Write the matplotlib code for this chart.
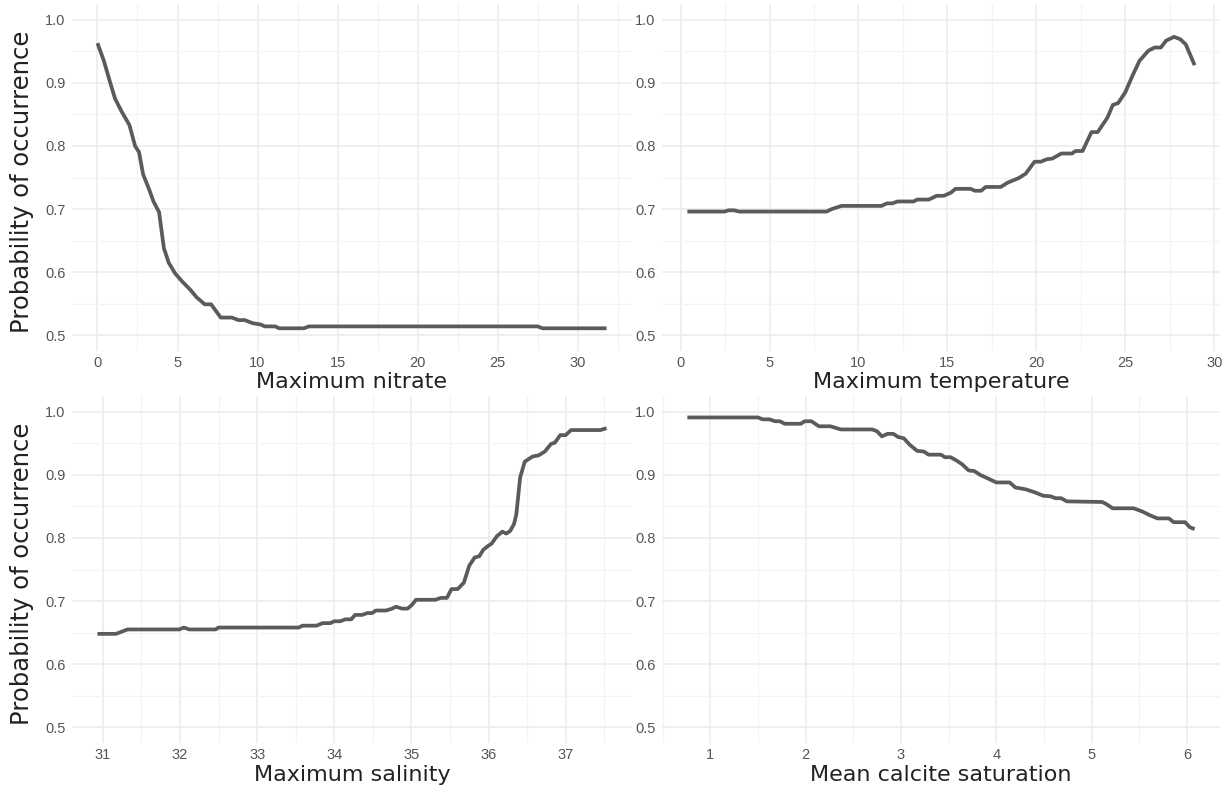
import matplotlib
matplotlib.use("Agg")
import matplotlib.pyplot as plt
import numpy as np
from matplotlib.ticker import MultipleLocator, FixedLocator, FormatStrFormatter

# ---------------- data ----------------
nitrate_x = [0, 0.4, 0.8, 1.1, 1.5, 2.0, 2.35, 2.6, 2.85, 3.2, 3.5, 3.85, 4.15, 4.45,
             4.85, 5.3, 5.8, 6.2, 6.7, 7.1, 7.7, 8.4, 8.8, 9.2, 9.7, 10.2, 10.45, 11.1,
             11.35, 12.9, 13.2, 27.5, 27.8, 31.8]
nitrate_y = [0.963, 0.935, 0.900, 0.875, 0.855, 0.833, 0.800, 0.790, 0.755, 0.733, 0.712,
             0.695, 0.638, 0.615, 0.598, 0.585, 0.572, 0.560, 0.549, 0.549, 0.528, 0.528,
             0.524, 0.524, 0.519, 0.517, 0.514, 0.514, 0.511, 0.511, 0.514, 0.514, 0.511,
             0.511]

temp_x = [0.38, 2.47, 2.7, 3.0, 3.3, 8.2, 8.5, 9.05, 11.3, 11.6, 11.9, 12.2, 13.1, 13.3,
          13.95, 14.4, 14.8, 15.2, 15.45, 16.3, 16.55, 16.9, 17.15, 18.0, 18.4, 19.0,
          19.4, 19.9, 20.25, 20.6, 20.9, 21.4, 22.0, 22.2, 22.6, 23.1, 23.45, 24.0, 24.3,
          24.6, 25.0, 25.4, 25.8, 26.3, 26.65, 27.0, 27.3, 27.75, 28.1, 28.4, 28.9]
temp_y = [0.696, 0.696, 0.698, 0.698, 0.696, 0.696, 0.700, 0.705, 0.705, 0.709, 0.709,
          0.712, 0.712, 0.715, 0.715, 0.721, 0.721, 0.726, 0.732, 0.732, 0.729, 0.729,
          0.735, 0.735, 0.742, 0.749, 0.756, 0.775, 0.775, 0.779, 0.780, 0.788, 0.788,
          0.792, 0.792, 0.822, 0.822, 0.845, 0.865, 0.868, 0.885, 0.911, 0.935, 0.951,
          0.956, 0.956, 0.967, 0.973, 0.969, 0.961, 0.928]

sal_x = [30.93, 31.17, 31.32, 31.99, 32.05, 32.12, 32.46, 32.5, 33.54, 33.59, 33.77,
         33.85, 33.95, 34.0, 34.08, 34.14, 34.22, 34.27, 34.36, 34.43, 34.49, 34.54,
         34.67, 34.75, 34.8, 34.88, 34.95, 35.0, 35.06, 35.31, 35.38, 35.46, 35.52, 35.6,
         35.68, 35.75, 35.82, 35.88, 35.93, 35.99, 36.04, 36.11, 36.18, 36.23, 36.28,
         36.33, 36.36, 36.41, 36.47, 36.57, 36.65, 36.73, 36.81, 36.86, 36.93, 37.0,
         37.07, 37.45, 37.53]
sal_y = [0.648, 0.648, 0.655, 0.655, 0.658, 0.655, 0.655, 0.658, 0.658, 0.661, 0.661,
         0.665, 0.665, 0.668, 0.668, 0.671, 0.671, 0.678, 0.678, 0.681, 0.681, 0.685,
         0.685, 0.688, 0.691, 0.688, 0.688, 0.693, 0.702, 0.702, 0.705, 0.705, 0.719,
         0.719, 0.729, 0.756, 0.769, 0.771, 0.781, 0.787, 0.791, 0.803, 0.810, 0.807,
         0.811, 0.822, 0.837, 0.896, 0.921, 0.929, 0.931, 0.937, 0.949, 0.951, 0.963,
         0.963, 0.971, 0.971, 0.974]

calc_x = [0.76, 1.5, 1.55, 1.62, 1.68, 1.73, 1.78, 1.95, 1.99, 2.06, 2.14, 2.26, 2.37,
          2.70, 2.75, 2.8, 2.86, 2.92, 2.97, 3.03, 3.09, 3.17, 3.24, 3.29, 3.42, 3.46,
          3.52, 3.58, 3.64, 3.71, 3.77, 3.83, 3.93, 4.0, 4.14, 4.2, 4.31, 4.41, 4.49,
          4.57, 4.62, 4.68, 4.74, 5.11, 5.15, 5.22, 5.44, 5.53, 5.61, 5.69, 5.81, 5.86,
          5.98, 6.03, 6.08]
calc_y = [0.991, 0.991, 0.988, 0.988, 0.985, 0.985, 0.981, 0.981, 0.985, 0.985, 0.977,
          0.977, 0.972, 0.972, 0.969, 0.961, 0.965, 0.965, 0.960, 0.958, 0.948, 0.938,
          0.937, 0.932, 0.932, 0.928, 0.928, 0.923, 0.917, 0.907, 0.906, 0.900, 0.893,
          0.888, 0.888, 0.880, 0.877, 0.872, 0.867, 0.866, 0.863, 0.863, 0.858, 0.857,
          0.854, 0.847, 0.847, 0.842, 0.836, 0.831, 0.831, 0.825, 0.825, 0.817, 0.814]

x_titles = ["Maximum nitrate", "Maximum temperature", "Maximum salinity",
            "Mean calcite saturation"]
y_title = "Probability of occurrence"
x_steps = [5, 5, 1, 1]
y_ticks = [0.5, 0.6, 0.7, 0.8, 0.9, 1.0]

series = [(nitrate_x, nitrate_y), (temp_x, temp_y), (sal_x, sal_y), (calc_x, calc_y)]

# ---------------- layout ----------------
W, H = 1230, 789
fig = plt.figure(figsize=(W / 100, H / 100), dpi=100)

# panel boxes in pixels (left, top, right, bottom)
boxes = [(72, 4, 632, 351), (662, 4, 1220, 351),
         (72, 396, 632, 743), (662, 396, 1220, 743)]
title_baseline = [388, 388, 781, 781]

line_color = "#5b5b5b"
tick_color = "#555555"
title_color = "#222222"

for i, (box, (xs, ys)) in enumerate(zip(boxes, series)):
    l, t, r, b = box
    ax = fig.add_axes([l / W, (H - b) / H, (r - l) / W, (b - t) / H])
    ax.plot(xs, ys, color=line_color, lw=2.7, solid_joinstyle="round",
            solid_capstyle="butt", zorder=3)

    xmin, xmax = min(xs), max(xs)
    xr = xmax - xmin
    lo, hi = xmin - 0.05 * xr, xmax + 0.05 * xr
    ax.set_xlim(lo, hi)
    ax.set_ylim(0.475, 1.025)

    step = x_steps[i]
    ax.xaxis.set_major_locator(MultipleLocator(step))
    start = np.floor(lo / step) * step + step / 2
    ax.xaxis.set_minor_locator(FixedLocator(np.arange(start, hi + step, step)))
    ax.yaxis.set_major_locator(FixedLocator(y_ticks))
    ax.yaxis.set_minor_locator(FixedLocator([0.55, 0.65, 0.75, 0.85, 0.95]))

    ax.grid(which="major", color="#ebebeb", lw=1.1, zorder=0)
    ax.grid(which="minor", color="#f3f3f3", lw=0.8, zorder=0)
    ax.set_axisbelow(True)
    for s in ax.spines.values():
        s.set_visible(False)
    ax.tick_params(which="both", length=0)
    ax.tick_params(axis="x", pad=3.5, labelsize=10.5, labelcolor=tick_color)
    ax.tick_params(axis="y", pad=4.5, labelsize=10.5, labelcolor=tick_color)
    ax.yaxis.set_major_formatter(FormatStrFormatter("%.1f"))
    for lab in ax.get_xticklabels() + ax.get_yticklabels():
        lab.set_fontfamily("Liberation Sans")
    ax.set_facecolor("white")

    # x title
    fig.text((l + r) / 2 / W, 1 - title_baseline[i] / H, x_titles[i],
             ha="center", va="baseline", fontsize=16, color=title_color,
             family="DejaVu Sans")

# y titles (left column only)
for (l, t, r, b) in (boxes[0], boxes[2]):
    fig.text(22 / W, 1 - ((t + b) / 2 + 4) / H, y_title, rotation=90,
             ha="center", va="center", fontsize=17.5, color=title_color,
             family="DejaVu Sans")

fig.savefig("out.png", dpi=100, facecolor="white")
